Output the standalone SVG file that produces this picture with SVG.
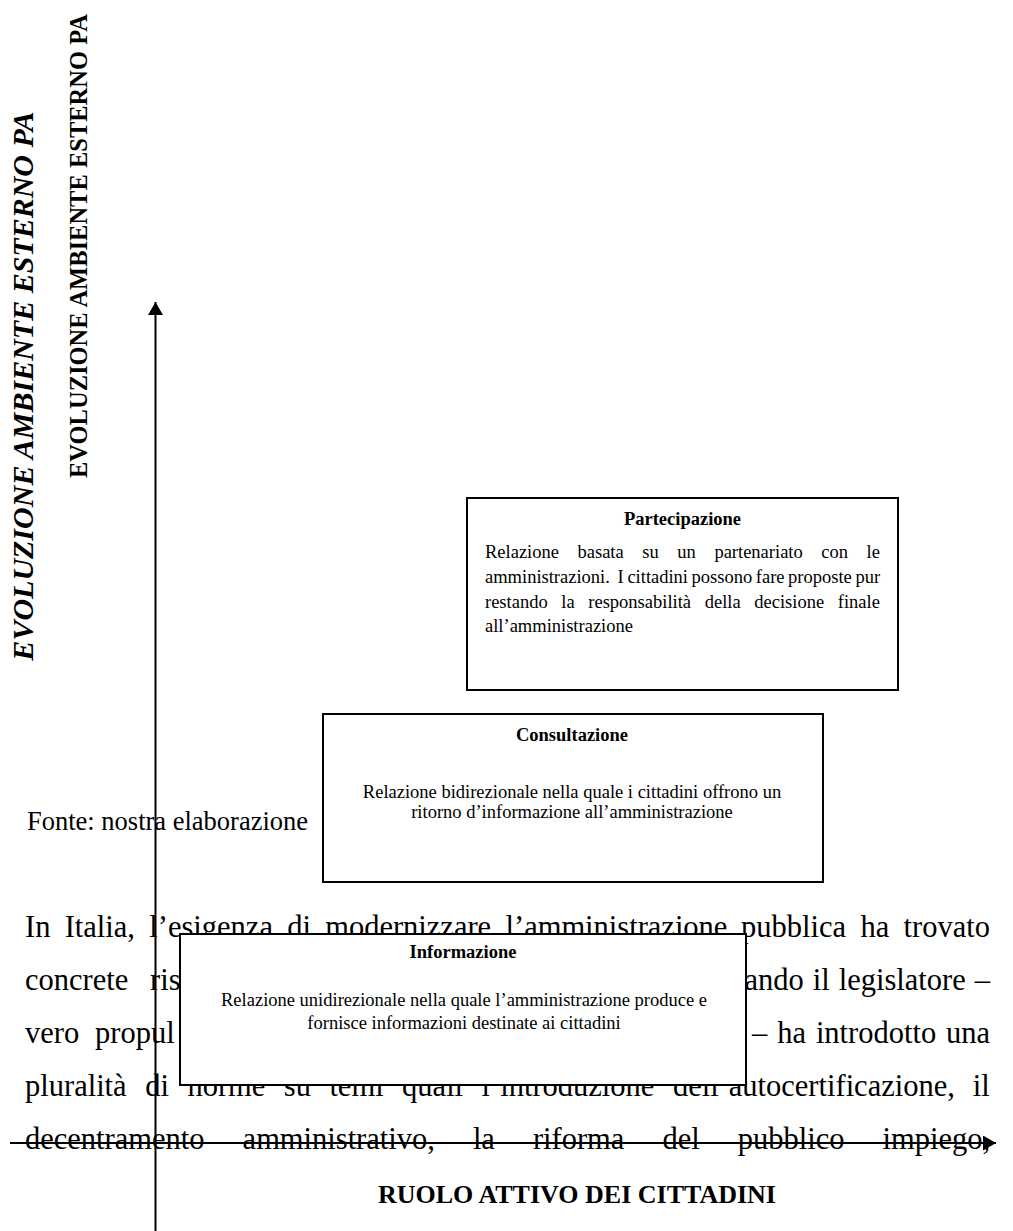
<svg xmlns="http://www.w3.org/2000/svg" width="1013" height="1231" viewBox="0 0 1013 1231">
  <defs>
    <marker id="arrow" viewBox="0 0 13 15" refX="13" refY="7.5" markerWidth="13" markerHeight="15" markerUnits="userSpaceOnUse" orient="auto">
      <path d="M0,0 L13,7.5 L0,15 Z" fill="#000"/>
    </marker>
    <style>
      .serif { font-family: "Liberation Serif", "Times New Roman", serif; fill: #000; }
      .para { font-size: 30.5px; }
      .box { fill: #fff; stroke: #000; stroke-width: 2; }
      .head { font-size: 18.5px; font-weight: bold; text-anchor: middle; }
      .body { font-size: 18.5px; }
      .mid { text-anchor: middle; }
      .axis { stroke: #000; stroke-width: 2; fill: none; }
    </style>
  </defs>
  <rect width="1013" height="1231" fill="#fff"/>

  <!-- vertical axis titles -->
  <g id="title-italic">
    <text class="serif" font-size="30" font-weight="bold" font-style="italic" text-anchor="middle" transform="translate(33,386) rotate(-90)">EVOLUZIONE AMBIENTE ESTERNO PA</text>
  </g>
  <g id="title-bold">
    <text class="serif" font-size="24.5" font-weight="bold" text-anchor="middle" transform="translate(87,246) rotate(-90)">EVOLUZIONE AMBIENTE ESTERNO PA</text>
  </g>

  <!-- source note -->
  <g id="source">
    <text class="serif" font-size="26.5" x="27" y="830">Fonte: nostra elaborazione</text>
  </g>

  <!-- running paragraph behind the chart -->
  <g id="paragraph" class="serif para">
    <text y="937"><tspan x="25">In</tspan><tspan x="64.7">Italia,</tspan><tspan x="149.3">l’esigenza</tspan><tspan x="287.2">di</tspan><tspan x="325.2">modernizzare</tspan><tspan x="505.5">l’amministrazione</tspan><tspan x="741.1">pubblica</tspan><tspan x="860.4">ha</tspan><tspan x="903.5">trovato</tspan></text>
    <text y="990"><tspan x="25">concrete</tspan><tspan x="150">ris</tspan><tspan x="744.4">ando</tspan><tspan x="812.7">il</tspan><tspan x="838.7">legislatore</tspan><tspan x="974.8">–</tspan></text>
    <text y="1043"><tspan x="25">vero</tspan><tspan x="95">propul</tspan><tspan x="752">–</tspan><tspan x="777.2">ha</tspan><tspan x="815.9">introdotto</tspan><tspan x="946">una</tspan></text>
    <text y="1096"><tspan x="25">pluralità</tspan><tspan x="145.2">di</tspan><tspan x="187.4">norme</tspan><tspan x="283.8">su</tspan><tspan x="329.4">temi</tspan><tspan x="402.1">quali</tspan><tspan x="481.6">l’introduzione</tspan><tspan x="672.9">dell’autocertificazione,</tspan><tspan x="972.7">il</tspan></text>
    <text y="1149"><tspan x="25">decentramento</tspan><tspan x="242.6">amministrativo,</tspan><tspan x="472.9">la</tspan><tspan x="532.9">riforma</tspan><tspan x="662.4">del</tspan><tspan x="737.7">pubblico</tspan><tspan x="882.5">impiego,</tspan></text>
  </g>

  <!-- horizontal axis label -->
  <g id="axis-label-x">
    <text class="serif" font-size="26" font-weight="bold" text-anchor="middle" x="577" y="1203">RUOLO ATTIVO DEI CITTADINI</text>
  </g>

  <!-- connectors: the two axes -->
  <g id="connectors">
    <line class="axis" x1="155.5" y1="1231" x2="155.5" y2="302" marker-end="url(#arrow)"/>
    <line class="axis" x1="10" y1="1143" x2="996" y2="1143" marker-end="url(#arrow)"/>
  </g>

  <!-- nodes -->
  <g id="partecipazione" class="serif">
    <rect class="box" x="467" y="498" width="431" height="192"/>
    <text class="head" x="682.5" y="525">Partecipazione</text>
    <text class="body" y="558"><tspan x="485">Relazione</tspan><tspan x="577.5">basata</tspan><tspan x="642.3">su</tspan><tspan x="677.3">un</tspan><tspan x="714.4">partenariato</tspan><tspan x="821.3">con</tspan><tspan x="866.6">le</tspan></text>
    <text class="body" y="583"><tspan x="485">amministrazioni.</tspan><tspan x="617.6">I</tspan><tspan x="627.4">cittadini</tspan><tspan x="691.6">possono</tspan><tspan x="755.8">fare</tspan><tspan x="788.1">proposte</tspan><tspan x="855.4">pur</tspan></text>
    <text class="body" y="608"><tspan x="485">restando</tspan><tspan x="561.3">la</tspan><tspan x="588.3">responsabilità</tspan><tspan x="704.7">della</tspan><tspan x="754.3">decisione</tspan><tspan x="837.8">finale</tspan></text>
    <text class="body" x="485" y="632">all’amministrazione</text>
  </g>

  <g id="consultazione" class="serif">
    <rect class="box" x="323" y="714" width="500" height="168"/>
    <text class="head" x="572" y="741">Consultazione</text>
    <text class="body mid" x="572" y="798">Relazione bidirezionale nella quale i cittadini offrono un</text>
    <text class="body mid" x="572" y="818">ritorno d’informazione all’amministrazione</text>
  </g>

  <g id="informazione" class="serif">
    <rect class="box" x="180" y="934" width="566" height="151"/>
    <text class="head" x="463" y="958">Informazione</text>
    <text class="body mid" x="464" y="1006">Relazione unidirezionale nella quale l’amministrazione produce e</text>
    <text class="body mid" x="464" y="1029">fornisce informazioni destinate ai cittadini</text>
  </g>
</svg>
